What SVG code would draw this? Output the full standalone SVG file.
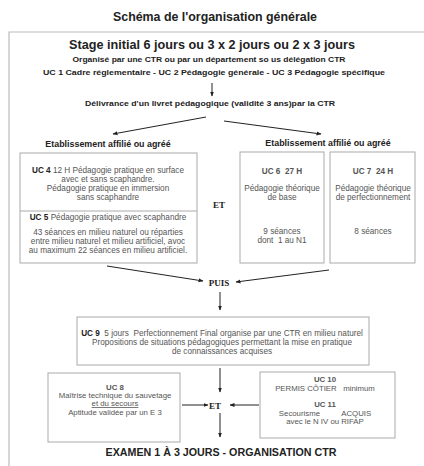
<svg xmlns="http://www.w3.org/2000/svg" width="424" height="466" viewBox="0 0 424 466">
<defs>
<marker id="ah" viewBox="0 0 10 10" refX="9" refY="5" markerWidth="5" markerHeight="5" orient="auto" markerUnits="userSpaceOnUse"><path d="M0,1 L10,5 L0,9 z" fill="#222"/></marker>
</defs>
<style>
text{font-family:"Liberation Sans",Arial,sans-serif;fill:#222;text-anchor:middle;white-space:pre}
.b{font-weight:bold}
.s{font-size:8.2px;fill:#555}
.t{font-size:7.8px}
.serif{font-family:"Liberation Serif","Times New Roman",serif;font-weight:bold;font-size:9px}
.box{fill:none;stroke:#aaa;stroke-width:1}
.frame{fill:none;stroke:#bbb;stroke-width:1.2}
.c{fill:none;stroke:#222;stroke-width:1;marker-end:url(#ah)}
</style>
<rect width="424" height="466" fill="#fff"/>
<text x="215" y="21" class="b" font-size="12.4">Schéma de l'organisation générale</text>
<polyline class="frame" points="9,466 9,32 424,32"/>
<g id="stage">
<text x="212" y="49" class="b" font-size="13" textLength="286" lengthAdjust="spacingAndGlyphs">Stage initial 6 jours ou 3 x 2 jours ou 2 x 3 jours</text>
<text x="209" y="62" class="b" font-size="7.3" textLength="273" lengthAdjust="spacingAndGlyphs">Organisé par une CTR ou par un département so us délégation CTR</text>
<text x="214" y="75" class="b" font-size="7.8" textLength="342" lengthAdjust="spacingAndGlyphs">UC 1 Cadre réglementaire - UC 2 Pédagogie générale - UC 3 Pédagogie spécifique</text>
</g>
<g id="livret"><text x="210" y="106" class="b" font-size="8.1" textLength="250" lengthAdjust="spacingAndGlyphs">Délivrance d'un livret pédagogique (validité 3 ans)par la CTR</text></g>
<g id="etab-left"><text x="108" y="147" class="b" font-size="8.9">Etablissement affilié ou agréé</text></g>
<g id="etab-right"><text x="328" y="146" class="b" font-size="8.9">Etablissement affilié ou agréé</text></g>
<g id="uc4-5">
<rect class="box" x="20" y="153" width="177" height="110"/>
<line class="box" x1="20" y1="211" x2="197" y2="211"/>
<text x="108" y="173" class="s"><tspan class="b" fill="#222">UC 4</tspan> 12 H Pédagogie pratique en surface</text>
<text x="108" y="182" class="s">avec et sans scaphandre.</text>
<text x="108" y="191" class="s">Pédagogie pratique en immersion</text>
<text x="108" y="200" class="s">sans scaphandre</text>
<text x="108" y="220" class="s"><tspan class="b" fill="#222">UC 5</tspan> Pédagogie pratique avec scaphandre</text>
<text x="108" y="235" class="s">43 séances en milieu naturel ou réparties</text>
<text x="108" y="244" class="s">entre milieu naturel et milieu artificiel, avoc</text>
<text x="108" y="253" class="s">au maximum 22 séances en milieu artificiel.</text>
</g>
<g id="et1"><text x="219" y="208" class="serif">ET</text></g>
<g id="uc6">
<rect class="box" x="240" y="152" width="84" height="111"/>
<text x="282" y="174" class="s b" fill="#222">UC 6  27 H</text>
<text x="282" y="191" class="s">Pédagogie théorique</text>
<text x="282" y="200" class="s">de base</text>
<text x="282" y="234" class="s">9 séances</text>
<text x="282" y="243" class="s">dont  1 au N1</text>
</g>
<g id="uc7">
<rect class="box" x="330" y="152" width="85" height="111"/>
<text x="373" y="174" class="s b" fill="#222">UC 7  24 H</text>
<text x="373" y="191" class="s">Pédagogie théorique</text>
<text x="373" y="200" class="s">de perfectionnement</text>
<text x="373" y="234" class="s">8 séances</text>
</g>
<g id="puis"><text x="219" y="286" class="serif" font-size="8.5">PUIS</text></g>
<g id="uc9">
<rect class="box" x="77" y="317" width="292" height="48"/>
<text x="222" y="336" class="s"><tspan class="b" fill="#222">UC 9</tspan>  5 jours  Perfectionnement Final organise par une CTR en milieu naturel</text>
<text x="222" y="345" class="s">Propositions de situations pédagogiques permettant la mise en pratique</text>
<text x="222" y="354" class="s">de connaissances acquises</text>
</g>
<g id="uc8">
<rect class="box" x="48" y="373" width="132" height="69"/>
<text x="115" y="390" class="s t b" fill="#222">UC 8</text>
<text x="115" y="398" class="s t">Maîtrise technique du sauvetage</text>
<text x="115" y="406" class="s t" text-decoration="underline">et du secours</text>
<text x="115" y="415" class="s t">Aptitude validée par un E 3</text>
</g>
<g id="et2"><text x="215" y="409" class="serif">ET</text></g>
<g id="uc10-11">
<rect class="box" x="260" y="372" width="135" height="66"/>
<text x="325" y="382" class="s t b" fill="#222">UC 10</text>
<text x="325" y="391" class="s t">PERMIS CÔTIER   minimum</text>
<text x="325" y="407" class="s t b" fill="#222">UC 11</text>
<text x="325" y="416" class="s t">Secourisme          ACQUIS</text>
<text x="325" y="424" class="s t">avec le N IV ou RIFAP</text>
</g>
<g id="examen"><text x="221" y="456" class="b" font-size="10.7">EXAMEN 1 À 3 JOURS - ORGANISATION CTR</text></g>
<g id="connectors">
<line class="c" x1="212" y1="83" x2="212" y2="96"/>
<line class="c" x1="206" y1="117" x2="113" y2="134"/>
<line class="c" x1="224" y1="121" x2="321" y2="134"/>
<line class="c" x1="107" y1="266" x2="203" y2="281"/>
<line class="c" x1="329" y1="270" x2="236" y2="282"/>
<line class="c" x1="220" y1="292" x2="220" y2="310"/>
<line class="c" x1="220" y1="368" x2="220" y2="392"/>
<line class="c" x1="182" y1="405" x2="208" y2="405"/>
<line class="c" x1="259" y1="405" x2="230" y2="405"/>
<line class="c" x1="220" y1="413" x2="220" y2="437"/>
</g>
</svg>
